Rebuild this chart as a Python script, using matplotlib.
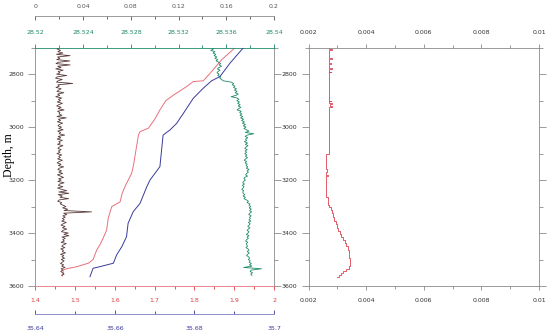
import numpy as np
import matplotlib
matplotlib.use("Agg")
import matplotlib.pyplot as plt
from matplotlib.ticker import MultipleLocator, FormatStrFormatter


# regular depth grid for the two noisy logs (m)
depth_log = np.arange(2700, 3561, 5)

black_vals = [
    0.0195, 0.0182, 0.0210, 0.0188, 0.0230, 0.0176, 0.0290, 0.0185, 0.0205, 0.0178,
    0.0288, 0.0192, 0.0172, 0.0290, 0.0186, 0.0214, 0.0170, 0.0232, 0.0190, 0.0205,
    0.0178, 0.0262, 0.0184, 0.0168, 0.0225, 0.0190, 0.0176, 0.0312, 0.0188, 0.0200,
    0.0172, 0.0215, 0.0194, 0.0180, 0.0238, 0.0186, 0.0204, 0.0170, 0.0220, 0.0192,
    0.0210, 0.0182, 0.0226, 0.0196, 0.0178, 0.0215, 0.0190, 0.0240, 0.0185, 0.0205,
    0.0198, 0.0222, 0.0180, 0.0258, 0.0192, 0.0210, 0.0183, 0.0228, 0.0200, 0.0188,
    0.0218, 0.0195, 0.0232, 0.0186, 0.0210, 0.0198, 0.0245, 0.0190, 0.0212, 0.0182,
    0.0225, 0.0196, 0.0208, 0.0185, 0.0230, 0.0200, 0.0188, 0.0215, 0.0192, 0.0206,
    0.0180, 0.0220, 0.0195, 0.0208, 0.0186, 0.0226, 0.0198, 0.0182, 0.0214, 0.0192,
    0.0236, 0.0200, 0.0188, 0.0218, 0.0196, 0.0228, 0.0184, 0.0210, 0.0235, 0.0194,
    0.0215, 0.0188, 0.0240, 0.0202, 0.0192, 0.0230, 0.0185, 0.0218, 0.0262, 0.0196,
    0.0280, 0.0190, 0.0225, 0.0205, 0.0278, 0.0198, 0.0186, 0.0220, 0.0208, 0.0232,
    0.0255, 0.0228, 0.0270, 0.0240, 0.0470, 0.0236, 0.0262, 0.0230, 0.0250, 0.0226,
    0.0242, 0.0220, 0.0258, 0.0232, 0.0214, 0.0248, 0.0226, 0.0262, 0.0230, 0.0218,
    0.0275, 0.0238, 0.0280, 0.0222, 0.0250, 0.0228, 0.0242, 0.0215, 0.0258, 0.0232,
    0.0220, 0.0246, 0.0212, 0.0235, 0.0225, 0.0252, 0.0210, 0.0238, 0.0222, 0.0244,
    0.0216, 0.0240, 0.0225, 0.0210, 0.0236, 0.0220, 0.0248, 0.0215, 0.0230, 0.0212,
    0.0226, 0.0240, 0.0218,
]

green_vals = [
    28.53480, 28.53492, 28.53470, 28.53505, 28.53488, 28.53512, 28.53498, 28.53520, 28.53505, 28.53528,
    28.53515, 28.53535, 28.53552, 28.53540, 28.53560, 28.53538, 28.53525, 28.53548, 28.53530, 28.53522,
    28.53540, 28.53528, 28.53552, 28.53545, 28.53560, 28.53575, 28.53640, 28.53662, 28.53650, 28.53672,
    28.53660, 28.53685, 28.53668, 28.53690, 28.53675, 28.53700, 28.53682, 28.53640, 28.53690, 28.53705,
    28.53688, 28.53710, 28.53695, 28.53716, 28.53700, 28.53722, 28.53705, 28.53690, 28.53725, 28.53712,
    28.53730, 28.53715, 28.53738, 28.53720, 28.53745, 28.53728, 28.53752, 28.53735, 28.53760, 28.53742,
    28.53765, 28.53748, 28.53770, 28.53790, 28.53760, 28.53830, 28.53775, 28.53758, 28.53780, 28.53762,
    28.53770, 28.53752, 28.53778, 28.53760, 28.53782, 28.53765, 28.53755, 28.53775, 28.53758, 28.53770,
    28.53755, 28.53772, 28.53760, 28.53778, 28.53762, 28.53750, 28.53770, 28.53758, 28.53775, 28.53765,
    28.53780, 28.53768, 28.53790, 28.53775, 28.53785, 28.53770, 28.53762, 28.53778, 28.53755, 28.53748,
    28.53760, 28.53745, 28.53738, 28.53752, 28.53735, 28.53748, 28.53740, 28.53730, 28.53745, 28.53738,
    28.53742, 28.53755, 28.53740, 28.53760, 28.53748, 28.53770, 28.53785, 28.53775, 28.53798, 28.53790,
    28.53805, 28.53792, 28.53810, 28.53795, 28.53812, 28.53798, 28.53788, 28.53808, 28.53795, 28.53802,
    28.53790, 28.53805, 28.53785, 28.53800, 28.53792, 28.53780, 28.53798, 28.53785, 28.53775, 28.53790,
    28.53782, 28.53768, 28.53790, 28.53775, 28.53785, 28.53770, 28.53762, 28.53780, 28.53768, 28.53772,
    28.53778, 28.53765, 28.53782, 28.53790, 28.53775, 28.53792, 28.53780, 28.53770, 28.53788, 28.53795,
    28.53785, 28.53800, 28.53792, 28.53810, 28.53795, 28.53815, 28.53745, 28.53895, 28.53808, 28.53800,
    28.53820, 28.53805, 28.53815,
]

# red curve (bottom red axis)
red_depth = [3562, 3550, 3540, 3535, 3527, 3514, 3500, 3464, 3445, 3420, 3389, 3344,
             3300, 3282, 3250, 3225, 3174, 3140, 3112, 3030, 3017, 3004, 2970, 2935,
             2900, 2879, 2847, 2828, 2825, 2797, 2746, 2700]
red_vals = [1.468, 1.470, 1.469, 1.478, 1.504, 1.533, 1.545, 1.554, 1.562, 1.570,
            1.579, 1.583, 1.592, 1.613, 1.618, 1.625, 1.642, 1.647, 1.650, 1.659,
            1.663, 1.684, 1.700, 1.713, 1.728, 1.747, 1.780, 1.797, 1.822, 1.839,
            1.868, 1.902]

# blue curve (lower blue axis)
blue_depth = [3565, 3533, 3527, 3514, 3483, 3452, 3414, 3363, 3319, 3288, 3225,
              3200, 3149, 3030, 3011, 2986, 2948, 2891, 2853, 2825, 2809, 2759, 2700]
blue_vals = [35.6537, 35.6545, 35.6562, 35.6596, 35.6604, 35.6617, 35.6629, 35.6633,
             35.6646, 35.6663, 35.6680, 35.6688, 35.6713, 35.6721, 35.6738, 35.6755,
             35.6772, 35.6797, 35.6822, 35.6843, 35.6864, 35.6889, 35.6923]

# right panel step log
right_depth = [2700, 2705, 2708, 2738, 2741, 2758, 2761, 2778, 2781, 2790, 2793,
               2900, 2903, 2910, 2914, 2920, 2924, 3100, 3160, 3170, 3180, 3183,
               3230, 3262, 3275, 3295, 3300, 3312, 3325, 3340, 3355, 3365, 3380,
               3392, 3405, 3415, 3425, 3438, 3450, 3465, 3480, 3495, 3510, 3525,
               3535, 3545, 3552, 3558, 3565]
right_vals = [0.00272, 0.00283, 0.00272, 0.00281, 0.00272, 0.00279, 0.00272, 0.00280,
              0.00272, 0.00279, 0.00272, 0.00278, 0.00272, 0.00280, 0.00273, 0.00281,
              0.00272, 0.00262, 0.00264, 0.00260, 0.00266, 0.00260, 0.00261, 0.00266,
              0.00268, 0.00272, 0.00278, 0.00281, 0.00284, 0.00289, 0.00294, 0.00298,
              0.00303, 0.00309, 0.00314, 0.00320, 0.00326, 0.00330, 0.00336, 0.00339,
              0.00342, 0.00343, 0.00343, 0.00340, 0.00330, 0.00320, 0.00312, 0.00305,
              0.00298]

C_RED = "#e8707a"
C_RED_TXT = "#e03c3c"
C_BLUE = "#3a3a9c"
C_GREEN = "#1f8a6a"
C_BLACK = "#5a3c3c"
C_GRAY = "#8a8a8a"

plt.rcParams["font.family"] = "DejaVu Sans"
plt.rcParams["font.size"] = 4.5

fig = plt.figure(figsize=(5.5, 3.35), dpi=100)
ax = fig.add_axes([0.0645, 0.1463, 0.4337, 0.7113])
ax2 = fig.add_axes([0.561, 0.1463, 0.419, 0.7113])


def style_ticks(a, axis, color, direction, pad=6):
    a.tick_params(axis=axis, which="major", length=3, width=0.6, color=color,
                  labelcolor=color, direction=direction, pad=pad)
    a.tick_params(axis=axis, which="minor", length=2, width=0.6, color=color,
                  direction=direction)


# --- left panel: red main axis ---
ax.plot(red_vals, red_depth, color=C_RED, lw=0.7)
ax.set_xlim(1.4, 2.0)
ax.set_ylim(3600, 2700)
ax.xaxis.set_major_locator(MultipleLocator(0.1))
ax.xaxis.set_minor_locator(MultipleLocator(0.05))
ax.xaxis.set_major_formatter(FormatStrFormatter("%g"))
style_ticks(ax, "x", C_RED_TXT, "out")
ax.yaxis.set_major_locator(MultipleLocator(200))
ax.yaxis.set_minor_locator(MultipleLocator(100))
ax.tick_params(axis="y", which="both", left=True, right=True, labelleft=True,
               labelright=False, direction="out", color=C_GRAY, width=0.6,
               labelcolor="#333333", pad=3)
ax.tick_params(axis="y", which="major", length=5)
ax.tick_params(axis="y", which="minor", length=3)
ax.spines["bottom"].set_color(C_RED)
ax.spines["left"].set_color(C_GRAY)
ax.spines["right"].set_color(C_GRAY)
ax.spines["top"].set_visible(False)
for s in ax.spines.values():
    s.set_linewidth(0.6)
ax.set_ylabel("Depth, m", family="Liberation Serif", fontsize=8.5)
ax.yaxis.set_label_coords(-0.085, 0.55)

# green axis on top spine
axg = ax.twiny()
axg.plot(green_vals, depth_log, color=C_GREEN, lw=0.6)
axg.set_xlim(28.52, 28.54)
axg.xaxis.set_major_locator(MultipleLocator(0.004))
axg.xaxis.set_minor_locator(MultipleLocator(0.002))
axg.xaxis.set_major_formatter(FormatStrFormatter("%g"))
style_ticks(axg, "x", C_GREEN, "out")
for k in ["left", "right", "bottom"]:
    axg.spines[k].set_visible(False)
axg.spines["top"].set_color(C_GREEN)
axg.spines["top"].set_linewidth(0.6)

# black axis detached above
axk = ax.twiny()
axk.plot(black_vals, depth_log, color=C_BLACK, lw=0.6)
axk.set_xlim(0, 0.2)
axk.xaxis.set_major_locator(MultipleLocator(0.04))
axk.xaxis.set_minor_locator(MultipleLocator(0.02))
axk.xaxis.set_major_formatter(FormatStrFormatter("%g"))
axk.spines["top"].set_position(("outward", 23))
style_ticks(axk, "x", "#555555", "in", pad=5)
for k in ["left", "right", "bottom"]:
    axk.spines[k].set_visible(False)
axk.spines["top"].set_color(C_GRAY)
axk.spines["top"].set_linewidth(0.6)

# blue axis detached below
axb = ax.twiny()
axb.plot(blue_vals, blue_depth, color=C_BLUE, lw=0.7)
axb.set_xlim(35.64, 35.70)
axb.xaxis.set_ticks_position("bottom")
axb.xaxis.set_label_position("bottom")
axb.xaxis.set_major_locator(MultipleLocator(0.02))
axb.xaxis.set_minor_locator(MultipleLocator(0.01))
axb.xaxis.set_major_formatter(FormatStrFormatter("%g"))
axb.spines["bottom"].set_position(("outward", 20))
style_ticks(axb, "x", C_BLUE, "in", pad=9)
for k in ["left", "right", "top"]:
    axb.spines[k].set_visible(False)
axb.spines["bottom"].set_color("#7a7ac0")
axb.spines["bottom"].set_linewidth(0.6)

# --- right panel ---
ax2.plot(right_vals, right_depth, color="#e04050", lw=0.6, drawstyle="steps-pre")
ax2.set_xlim(0.002, 0.01)
ax2.set_ylim(3600, 2700)
ax2.xaxis.set_major_locator(MultipleLocator(0.002))
ax2.xaxis.set_minor_locator(MultipleLocator(0.001))
ax2.xaxis.set_major_formatter(FormatStrFormatter("%g"))
ax2.yaxis.set_major_locator(MultipleLocator(200))
ax2.yaxis.set_minor_locator(MultipleLocator(100))
ax2.tick_params(axis="both", which="both", direction="out", color=C_GRAY,
                width=0.6, labelcolor="#333333", top=True, bottom=True,
                left=True, right=True, labeltop=True, labelbottom=True,
                labelleft=True, labelright=False)
ax2.tick_params(axis="both", which="major", length=3, pad=6)
ax2.tick_params(axis="both", which="minor", length=2)
ax2.tick_params(axis="y", which="major", length=5, pad=3)
ax2.tick_params(axis="y", which="minor", length=3)
for s in ax2.spines.values():
    s.set_color(C_GRAY)
    s.set_linewidth(0.6)

fig.savefig("out.png", dpi=100)
